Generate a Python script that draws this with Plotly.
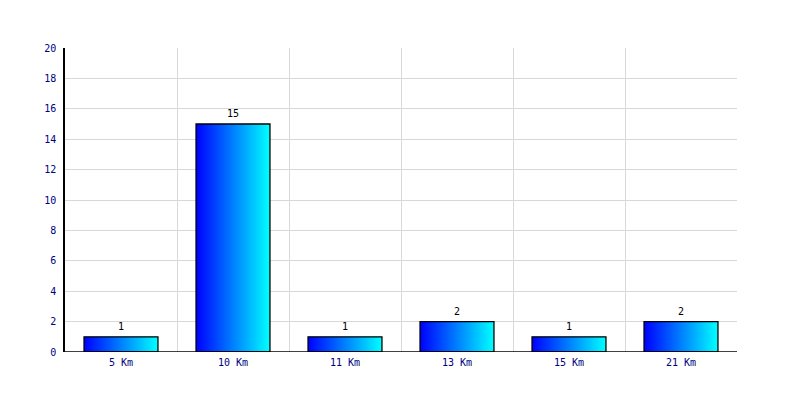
import plotly.graph_objects as go

categories = ["5 Km", "10 Km", "11 Km", "13 Km", "15 Km", "21 Km"]
values = [1, 15, 1, 2, 1, 2]
y_ticks = [0, 2, 4, 6, 8, 10, 12, 14, 16, 18, 20]

BAR_W = 0.66
FONT = "DejaVu Sans Mono"

fig = go.Figure()
for i, v in enumerate(values):
    x0, x1 = i - BAR_W / 2, i + BAR_W / 2
    fig.add_trace(go.Scatter(
        x=[x0, x1, x1, x0, x0], y=[0, 0, v, v, 0],
        mode="lines", fill="toself",
        line=dict(color="black", width=1.3),
        fillgradient=dict(type="horizontal",
                          colorscale=[[0, "#0000ff"], [1, "#00ffff"]],
                          start=x0, stop=x1),
        hoverinfo="skip", showlegend=False,
    ))

annotations = [
    dict(x=i, y=v, xref="x", yref="y", text=str(v), showarrow=False,
         yanchor="bottom", yshift=3,
         font=dict(family=FONT, size=10, color="black"))
    for i, v in enumerate(values)
]

fig.update_layout(
    width=792, height=392,
    margin=dict(l=57, r=63, t=40, b=48),
    paper_bgcolor="white", plot_bgcolor="white",
    font=dict(family=FONT, size=10, color="#000080"),
    annotations=annotations,
    xaxis=dict(
        range=[-0.5, len(categories) - 0.5],
        tickvals=list(range(len(categories))), ticktext=categories,
        showgrid=False, zeroline=False, ticks="",
        showline=False,
        minor=dict(tickvals=[i + 0.5 for i in range(-1, len(categories))],
                   showgrid=True, gridcolor="#d8d8d8", gridwidth=1, ticks=""),
        tickfont=dict(family=FONT, size=10, color="#000080"),
        ticklabelstandoff=3,
        fixedrange=True,
    ),
    yaxis=dict(
        range=[0, 20], tickvals=y_ticks,
        showgrid=True, gridcolor="#d8d8d8", gridwidth=1,
        zeroline=False, ticks="", showline=True, linecolor="black", linewidth=1.5,
        tickfont=dict(family=FONT, size=10, color="#000080"),
        ticklabelstandoff=5,
        fixedrange=True,
    ),
    shapes=[dict(type="line", xref="paper", yref="y", x0=0, x1=1, y0=0, y1=0,
                 line=dict(color="black", width=1.5), layer="above")],
)

fig.write_html("out.html")
